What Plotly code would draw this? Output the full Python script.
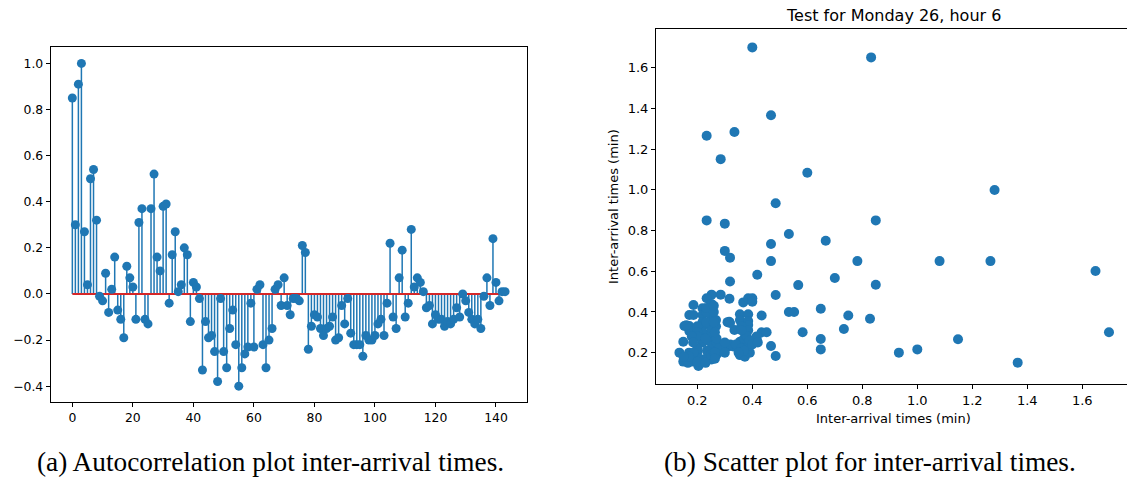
import plotly.graph_objects as go

W, H = 1127, 481

# ---------------- data ----------------
lags = list(range(144))
acf_values = [
    0.85, 0.30, 0.91, 1.00, 0.27, 0.04, 0.50, 0.54, 0.32, -0.01,
    -0.03, 0.09, -0.08, 0.02, 0.16, -0.07, -0.11, -0.19, 0.12, 0.07,
    0.03, -0.11, 0.31, 0.37, -0.11, -0.13, 0.37, 0.52, 0.16, 0.10,
    0.38, 0.39, -0.04, 0.17, 0.27, 0.01, 0.04, 0.20, 0.17, -0.12,
    0.05, 0.03, -0.02, -0.33, -0.12, -0.19, -0.18, -0.25, -0.38, -0.02,
    -0.25, -0.32, -0.15, -0.07, -0.22, -0.40, -0.32, -0.26, -0.23, -0.04,
    -0.23, 0.02, 0.04, -0.22, -0.32, -0.20, -0.15, 0.02, 0.04, -0.05,
    0.07, -0.05, -0.09, -0.02, -0.02, -0.03, 0.21, 0.18, -0.24, -0.14,
    -0.09, -0.10, -0.15, -0.18, -0.15, -0.14, -0.10, -0.20, -0.19, -0.05,
    -0.13, -0.02, -0.17, -0.22, -0.22, -0.22, -0.27, -0.18, -0.20, -0.20,
    -0.18, -0.13, -0.11, -0.18, -0.04, 0.22, -0.10, -0.15, 0.07, 0.19,
    -0.10, -0.04, 0.28, 0.03, 0.07, 0.05, 0.01, -0.06, -0.05, -0.13,
    -0.09, -0.11, -0.11, -0.14, -0.12, -0.13, -0.11, -0.06, -0.10, -0.00,
    -0.03, -0.08, -0.11, -0.13, -0.11, -0.15, -0.01, 0.07, -0.05, 0.24,
    0.05, -0.03, 0.01, 0.01,
]

scatter_x = [
    0.400, 0.468, 0.234, 0.335, 0.285, 0.600, 0.485, 0.234, 0.300, 0.533,
    0.468, 0.667, 0.300, 0.319, 0.468, 0.782, 0.418, 0.700, 0.319, 0.567,
    0.485, 0.533, 0.552, 0.649, 0.749, 0.583, 0.649, 0.649, 0.733, 0.434,
    0.485, 0.468, 0.434, 0.452, 0.828, 0.832, 1.281, 0.849, 1.081, 1.266,
    1.648, 0.849, 1.148, 1.697, 0.933, 1.000, 1.365,
    0.285, 0.317, 0.252, 0.234, 0.252, 0.186, 0.219, 0.367, 0.385, 0.400,
    0.400, 0.171, 0.186, 0.219, 0.219, 0.219, 0.219, 0.219, 0.219, 0.252,
    0.268, 0.268, 0.355, 0.385, 0.355, 0.385, 0.316, 0.335, 0.153, 0.171,
    0.171, 0.149, 0.385, 0.385, 0.416, 0.416, 0.135, 0.149, 0.166, 0.204,
    0.186, 0.220, 0.238, 0.252, 0.270, 0.295, 0.313, 0.331, 0.355, 0.373,
    0.385, 0.355, 0.373, 0.391, 0.290, 0.300, 0.255, 0.200, 0.200, 0.170,
    0.186, 0.166, 0.200, 0.235, 0.250, 0.250, 0.250, 0.250, 0.270, 0.270,
    0.280, 0.320, 0.340, 0.360, 0.370, 0.370, 0.380, 0.390, 0.200, 0.200,
    0.200, 0.180, 0.185, 0.233, 0.233, 0.233, 0.170, 0.150, 0.230, 0.250,
    0.260, 0.300, 0.230, 0.260, 0.260, 0.260, 0.300, 0.360, 0.360, 0.310,
    0.400, 0.420, 0.350, 0.160, 0.319, 0.264, 0.264, 0.264,
]
scatter_y = [
    1.700, 1.367, 1.266, 1.284, 1.151, 1.084, 0.934, 0.850, 0.834, 0.783,
    0.734, 0.750, 0.700, 0.667, 0.650, 0.650, 0.583, 0.567, 0.550, 0.532,
    0.483, 0.400, 0.400, 0.416, 0.383, 0.300, 0.267, 0.216, 0.316, 0.383,
    0.184, 0.233, 0.300, 0.300, 0.367, 1.651, 0.999, 0.850, 0.650, 0.650,
    0.601, 0.534, 0.266, 0.300, 0.200, 0.216, 0.151,
    0.485, 0.465, 0.485, 0.467, 0.439, 0.434, 0.418, 0.447, 0.467, 0.467,
    0.450, 0.385, 0.385, 0.385, 0.350, 0.330, 0.300, 0.270, 0.250, 0.369,
    0.360, 0.330, 0.389, 0.389, 0.360, 0.355, 0.352, 0.311, 0.331, 0.331,
    0.306, 0.254, 0.336, 0.310, 0.266, 0.280, 0.200, 0.156, 0.180, 0.135,
    0.156, 0.166, 0.180, 0.166, 0.190, 0.213, 0.230, 0.230, 0.254, 0.260,
    0.240, 0.188, 0.180, 0.200, 0.230, 0.235, 0.230, 0.200, 0.220, 0.200,
    0.200, 0.150, 0.155, 0.210, 0.250, 0.280, 0.300, 0.320, 0.250, 0.270,
    0.220, 0.240, 0.240, 0.220, 0.210, 0.270, 0.280, 0.260, 0.330, 0.300,
    0.280, 0.280, 0.250, 0.350, 0.400, 0.420, 0.180, 0.180, 0.150, 0.190,
    0.200, 0.200, 0.270, 0.350, 0.400, 0.430, 0.250, 0.330, 0.310, 0.350,
    0.240, 0.250, 0.200, 0.335, 0.346, 0.300, 0.200, 0.170,
]

x_ticks_left = [0, 20, 40, 60, 80, 100, 120, 140]
y_ticks_left = [-0.4, -0.2, 0.0, 0.2, 0.4, 0.6, 0.8, 1.0]
ticks_right = [0.2, 0.4, 0.6, 0.8, 1.0, 1.2, 1.4, 1.6]

title_right = "Test for Monday 26, hour 6"
axis_label = "Inter-arrival times (min)"
caption_a = "(a) Autocorrelation plot inter-arrival times."
caption_b = "(b) Scatter plot for inter-arrival times."

BLUE = "#1f77b4"
RED = "#d62728"


def px(x):
    return x / W


def py(y):
    return 1 - y / H


# stems built from the data
stem_x, stem_y = [], []
for lag, v in zip(lags, acf_values):
    stem_x += [lag, lag, None]
    stem_y += [0, v, None]

fig = go.Figure()
fig.add_trace(go.Scatter(x=stem_x, y=stem_y, mode="lines",
                         line=dict(color=BLUE, width=1.5),
                         xaxis="x", yaxis="y", hoverinfo="skip"))
fig.add_trace(go.Scatter(x=[min(lags), max(lags)], y=[0, 0], mode="lines",
                         line=dict(color=RED, width=2),
                         xaxis="x", yaxis="y"))
fig.add_trace(go.Scatter(x=lags, y=acf_values, mode="markers",
                         marker=dict(color=BLUE, size=9),
                         xaxis="x", yaxis="y"))
fig.add_trace(go.Scatter(x=scatter_x, y=scatter_y, mode="markers",
                         marker=dict(color=BLUE, size=10),
                         xaxis="x2", yaxis="y2"))

font_tick = dict(family="DejaVu Sans", size=12.4, color="black")
font_tick2 = dict(family="DejaVu Sans", size=13, color="black")
common = dict(showgrid=False, zeroline=False, showline=True, linecolor="black",
              linewidth=1, ticks="outside", ticklen=4, tickwidth=1,
              tickcolor="black")

fig.update_layout(
    width=W, height=H,
    margin=dict(l=0, r=0, t=0, b=0),
    paper_bgcolor="white", plot_bgcolor="white",
    showlegend=False,
    xaxis=dict(domain=[px(50.7), px(526.7)], range=[-7.15, 150.15],
               tickvals=x_ticks_left, tickfont=font_tick, mirror=True,
               anchor="y", **common),
    yaxis=dict(domain=[py(402.3), py(47.3)], range=[-0.47, 1.07],
               tickvals=y_ticks_left, tickformat=".1f", tickfont=font_tick,
               mirror=True, anchor="x", **common),
    xaxis2=dict(domain=[px(656), 1.0], range=[0.0498, 1.7625],
                tickvals=ticks_right, tickformat=".1f", tickfont=font_tick2,
                mirror=True, anchor="y2", **common),
    yaxis2=dict(domain=[py(384), py(29.3)], range=[0.046, 1.789],
                tickvals=ticks_right, tickformat=".1f", tickfont=font_tick2,
                mirror=False, anchor="x2", **common),
)

ann_font = dict(family="DejaVu Sans", size=13, color="black")
fig.add_annotation(text=title_right, x=px(893.5), y=py(15), xref="paper",
                   yref="paper", showarrow=False,
                   font=dict(family="DejaVu Sans", size=16, color="black"),
                   xanchor="center", yanchor="middle")
fig.add_annotation(text=axis_label, x=px(893.5), y=py(418), xref="paper",
                   yref="paper", showarrow=False, font=ann_font,
                   xanchor="center", yanchor="middle")
fig.add_annotation(text=axis_label, x=px(613), y=py(207), xref="paper",
                   yref="paper", showarrow=False, font=ann_font, textangle=-90,
                   xanchor="center", yanchor="middle")
cap_font = dict(family="Liberation Serif", size=27.3, color="black")
fig.add_annotation(text=caption_a, x=px(270), y=py(462), xref="paper",
                   yref="paper", showarrow=False, font=cap_font,
                   xanchor="center", yanchor="middle")
fig.add_annotation(text=caption_b, x=px(870), y=py(462), xref="paper",
                   yref="paper", showarrow=False, font=cap_font,
                   xanchor="center", yanchor="middle")

fig.write_html("out.html")
